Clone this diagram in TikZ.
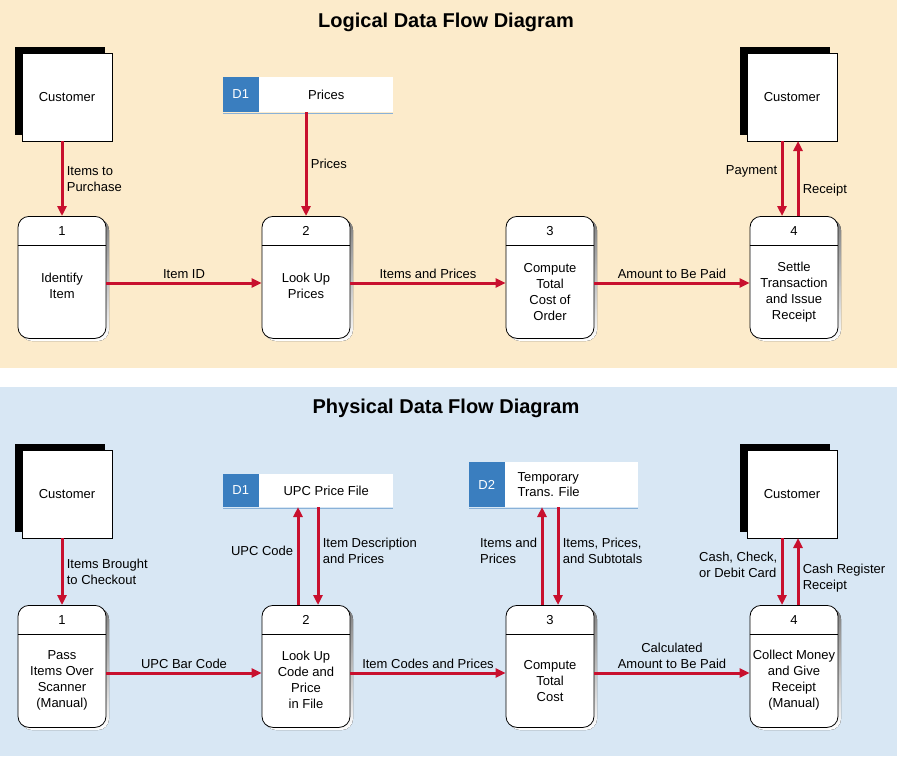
\documentclass[tikz,border=0pt]{standalone}
\usepackage{fontspec}
\setmainfont{Liberation Sans}
\usepackage{xcolor}
\usetikzlibrary{shapes,arrows.meta,positioning,calc}
\definecolor{peach}{HTML}{FCEBCB}
\definecolor{skyb}{HTML}{D8E7F4}
\definecolor{flowred}{HTML}{C8102E}
\definecolor{storeblue}{HTML}{3A7EBF}
\definecolor{shade}{HTML}{B5CFDC}

\tikzset{
    proc/.style={rectangle, rounded corners=11pt, draw, thick, fill=white, minimum width=88pt, minimum height=122pt, inner sep=0pt},
    entity/.style={rectangle, draw, fill=white, minimum width=90pt, minimum height=88pt, font=\fontsize{13}{15}\selectfont},
    store/.style={rectangle, fill=white, minimum width=134pt, inner sep=0pt},
    flow/.style={draw=flowred, line width=3pt, -{Triangle[length=10pt,width=9pt]}},
    lbl/.style={text=black, font=\fontsize{13}{16}\selectfont, align=left},
    txt/.style={text=black, font=\fontsize{13}{16}\selectfont, align=center}
}

\newcommand{\procbox}[4]{% name, center x, top y, number
  \fill[shade, rounded corners=11pt] (#2-41,#3+3) rectangle (#2+47,#3+125);
  \node[proc, anchor=north] (#1) at (#2,#3) {};
  \draw[thick] ($(#1.north west)+(0,29)$) -- ($(#1.north east)+(0,29)$);
  \node[txt] at ($(#1.north)+(0,15)$) {#4};
}
\newcommand{\extent}[3]{% name, center x, center y
  \fill[black] (#2-52,#3-50) rectangle (#2+38,#3+38);
  \node[entity] (#1) at (#2,#3) {Customer};
}

\begin{document}
\begin{tikzpicture}[x=1pt, y=-1pt]
\useasboundingbox (0,0) rectangle (897,756);
\fill[peach] (0,0) rectangle (897,368);
\fill[skyb] (0,387) rectangle (897,756);

% logical
\node[font=\fontsize{20}{24}\selectfont\bfseries] (ltitle) at (446,22) {Logical Data Flow Diagram};
\extent{lcust}{67}{97}
\extent{lcust2}{792}{97}
\node[store, minimum height=35pt, anchor=west] (lstore) at (259,94.5) {\fontsize{13}{15}\selectfont Prices};
\node[fill=storeblue, minimum width=36pt, minimum height=35pt, inner sep=0pt, anchor=east, text=white, font=\fontsize{13}{15}\selectfont] (lstoreid) at (lstore.west) {D1};
\draw[storeblue!60, line width=1pt] (223,113) -- (393,113);

\procbox{lp1}{62}{216}{1}
\procbox{lp2}{306}{216}{2}
\procbox{lp3}{550}{216}{3}
\procbox{lp4}{794}{216}{4}
\node[txt] at (62,286) {Identify\\Item};
\node[txt] at (306,286) {Look Up\\Prices};
\node[txt] at (550,292) {Compute\\Total\\Cost of\\Order};
\node[txt] at (794,292) {Settle\\Transaction\\and Issue\\Receipt};

\draw[flow] (lcust.south -| lp1) -- node[lbl, right] {Items to\\Purchase} (lp1.north);
\draw[flow] (lstore.south -| lp2) -- node[lbl, right] {Prices} (lp2.north);
\draw[flow] (lp1.east |- 0,283) -- node[lbl, above] {Item ID} (lp2.west |- 0,283);
\draw[flow] (lp2.east |- 0,283) -- node[lbl, above] {Items and Prices} (lp3.west |- 0,283);
\draw[flow] (lp3.east |- 0,283) -- node[lbl, above] {Amount to Be Paid} (lp4.west |- 0,283);
\draw[flow] (782,141) -- node[lbl, left, pos=0.4] {Payment} (782,216);
\draw[flow] (798,216) -- node[lbl, right, pos=0.35] {Receipt} (798,141);

% physical
\node[font=\fontsize{20}{24}\selectfont\bfseries] (ptitle) at (446,408) {Physical Data Flow Diagram};
\extent{pcust}{67}{494}
\extent{pcust2}{792}{494}
\node[store, minimum height=33pt, anchor=west] (pstore1) at (259,490.5) {\fontsize{13}{15}\selectfont UPC Price File};
\node[fill=storeblue, minimum width=36pt, minimum height=33pt, inner sep=0pt, anchor=east, text=white, font=\fontsize{13}{15}\selectfont] (pstore1id) at (pstore1.west) {D1};
\draw[storeblue!60, line width=1pt] (223,508) -- (393,508);
\node[store, minimum height=45pt, anchor=west, minimum width=133pt] (pstore2) at (505,484.5) {};
\node[lbl, anchor=west, font=\fontsize{13}{15}\selectfont] at (514,484.5) {Temporary\\Trans. File};
\node[fill=storeblue, minimum width=36pt, minimum height=45pt, inner sep=0pt, anchor=east, text=white, font=\fontsize{13}{15}\selectfont] (pstore2id) at (pstore2.west) {D2};
\draw[storeblue!60, line width=1pt] (469,508) -- (638,508);

\procbox{pp1}{62}{605}{1}
\procbox{pp2}{306}{605}{2}
\procbox{pp3}{550}{605}{3}
\procbox{pp4}{794}{605}{4}
\node[txt] at (62,680) {Pass\\Items Over\\Scanner\\(Manual)};
\node[txt] at (306,680) {Look Up\\Code and\\Price\\in File};
\node[txt] at (550,681) {Compute\\Total\\Cost};
\node[txt] at (794,680) {Collect Money\\and Give\\Receipt\\(Manual)};

\draw[flow] (pcust.south -| pp1) -- node[lbl, right] {Items Brought\\to Checkout} (pp1.north);
\draw[flow] (298,605) -- node[lbl, left, pos=0.55] {UPC Code} (298,507);
\draw[flow] (318,507) -- node[lbl, right, pos=0.45] {Item Description\\and Prices} (318,605);
\draw[flow] (542,605) -- node[lbl, left, pos=0.55] {Items and\\Prices} (542,507);
\draw[flow] (558,507) -- node[lbl, right, pos=0.45] {Items, Prices,\\and Subtotals} (558,605);
\draw[flow] (782,538) -- node[lbl, left, pos=0.4] {Cash, Check,\\or Debit Card} (782,605);
\draw[flow] (798,605) -- node[lbl, right, pos=0.4] {Cash Register\\Receipt} (798,538);
\draw[flow] (pp1.east |- 0,673) -- node[lbl, above] {UPC Bar Code} (pp2.west |- 0,673);
\draw[flow] (pp2.east |- 0,673) -- node[lbl, above] {Item Codes and Prices} (pp3.west |- 0,673);
\draw[flow] (pp3.east |- 0,673) -- node[txt, above] {Calculated\\Amount to Be Paid} (pp4.west |- 0,673);
\end{tikzpicture}
\end{document}
